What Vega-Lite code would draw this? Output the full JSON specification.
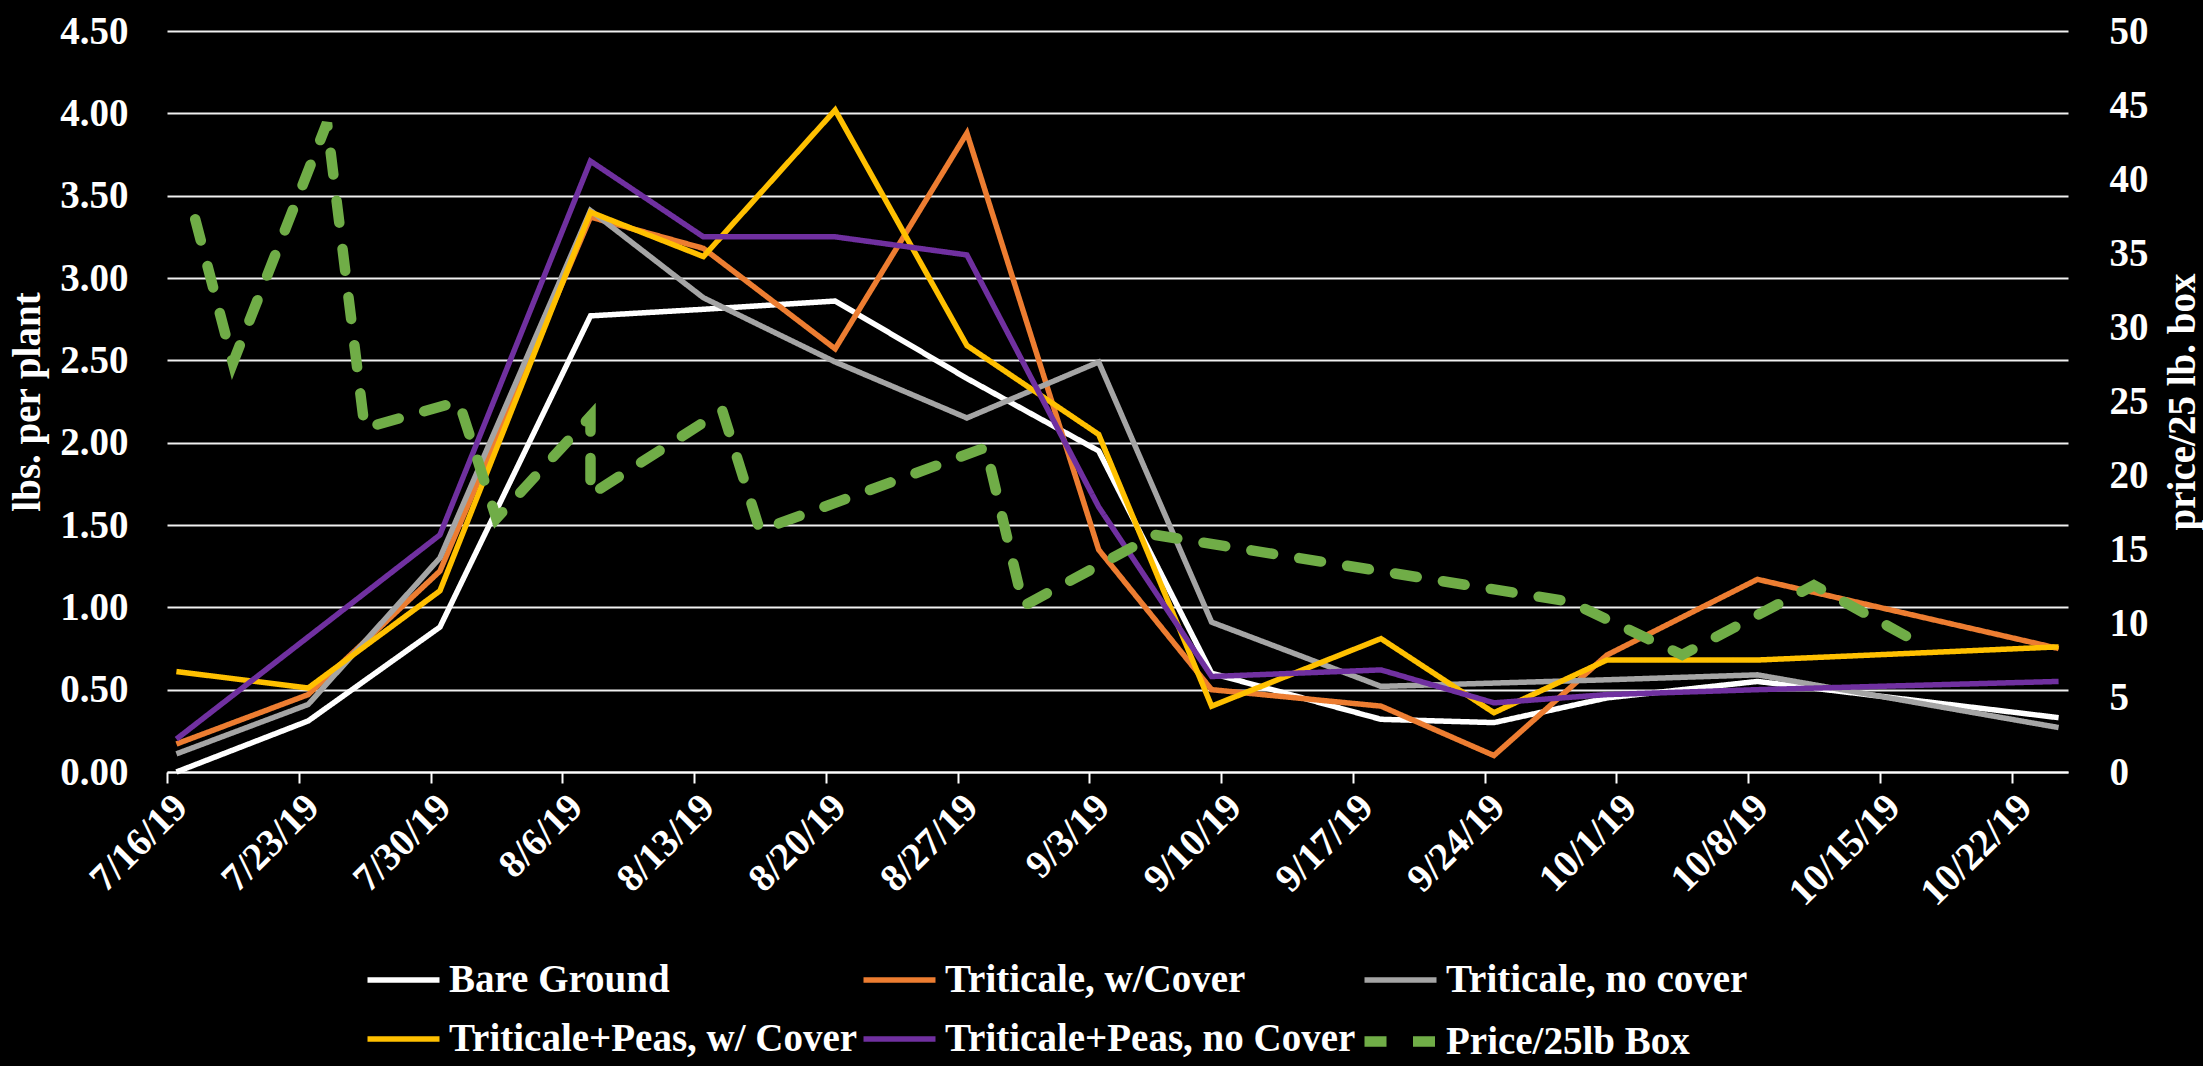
{
  "$schema": "https://vega.github.io/schema/vega-lite/v6.json",
  "width": 1901,
  "height": 741,
  "autosize": {"type": "none"},
  "padding": {"left": 167, "top": 31, "right": 135, "bottom": 294},
  "background": "#000000",
  "config": {
    "view": {"stroke": null},
    "font": "Liberation Serif",
    "axis": {
      "labelFont": "Liberation Serif",
      "labelFontSize": 39,
      "labelFontWeight": "bold",
      "labelColor": "#FFFFFF",
      "titleFont": "Liberation Serif",
      "titleFontSize": 39,
      "titleFontWeight": "bold",
      "titleColor": "#FFFFFF",
      "labelFlush": false,
      "labelOverlap": false,
      "labelBound": false,
      "labelLimit": 1000
    }
  },
  "datasets": {
    "produce": [
      {"date": "2019-07-16", "series": "Bare Ground", "lbs": 0.00},
      {"date": "2019-07-23", "series": "Bare Ground", "lbs": 0.31},
      {"date": "2019-07-30", "series": "Bare Ground", "lbs": 0.88},
      {"date": "2019-08-07", "series": "Bare Ground", "lbs": 2.77},
      {"date": "2019-08-13", "series": "Bare Ground", "lbs": 2.81},
      {"date": "2019-08-20", "series": "Bare Ground", "lbs": 2.86},
      {"date": "2019-08-27", "series": "Bare Ground", "lbs": 2.39},
      {"date": "2019-09-03", "series": "Bare Ground", "lbs": 1.95},
      {"date": "2019-09-09", "series": "Bare Ground", "lbs": 0.60},
      {"date": "2019-09-18", "series": "Bare Ground", "lbs": 0.32},
      {"date": "2019-09-24", "series": "Bare Ground", "lbs": 0.30},
      {"date": "2019-09-30", "series": "Bare Ground", "lbs": 0.45},
      {"date": "2019-10-08", "series": "Bare Ground", "lbs": 0.55},
      {"date": "2019-10-24", "series": "Bare Ground", "lbs": 0.33},

      {"date": "2019-07-16", "series": "Triticale, w/Cover", "lbs": 0.17},
      {"date": "2019-07-23", "series": "Triticale, w/Cover", "lbs": 0.47},
      {"date": "2019-07-30", "series": "Triticale, w/Cover", "lbs": 1.22},
      {"date": "2019-08-07", "series": "Triticale, w/Cover", "lbs": 3.37},
      {"date": "2019-08-13", "series": "Triticale, w/Cover", "lbs": 3.18},
      {"date": "2019-08-20", "series": "Triticale, w/Cover", "lbs": 2.57},
      {"date": "2019-08-27", "series": "Triticale, w/Cover", "lbs": 3.88},
      {"date": "2019-09-03", "series": "Triticale, w/Cover", "lbs": 1.35},
      {"date": "2019-09-09", "series": "Triticale, w/Cover", "lbs": 0.50},
      {"date": "2019-09-18", "series": "Triticale, w/Cover", "lbs": 0.40},
      {"date": "2019-09-24", "series": "Triticale, w/Cover", "lbs": 0.10},
      {"date": "2019-09-30", "series": "Triticale, w/Cover", "lbs": 0.71},
      {"date": "2019-10-08", "series": "Triticale, w/Cover", "lbs": 1.17},
      {"date": "2019-10-24", "series": "Triticale, w/Cover", "lbs": 0.75},

      {"date": "2019-07-16", "series": "Triticale, no cover", "lbs": 0.11},
      {"date": "2019-07-23", "series": "Triticale, no cover", "lbs": 0.41},
      {"date": "2019-07-30", "series": "Triticale, no cover", "lbs": 1.30},
      {"date": "2019-08-07", "series": "Triticale, no cover", "lbs": 3.41},
      {"date": "2019-08-13", "series": "Triticale, no cover", "lbs": 2.88},
      {"date": "2019-08-20", "series": "Triticale, no cover", "lbs": 2.49},
      {"date": "2019-08-27", "series": "Triticale, no cover", "lbs": 2.15},
      {"date": "2019-09-03", "series": "Triticale, no cover", "lbs": 2.49},
      {"date": "2019-09-09", "series": "Triticale, no cover", "lbs": 0.91},
      {"date": "2019-09-18", "series": "Triticale, no cover", "lbs": 0.52},
      {"date": "2019-09-24", "series": "Triticale, no cover", "lbs": 0.54},
      {"date": "2019-09-30", "series": "Triticale, no cover", "lbs": 0.56},
      {"date": "2019-10-08", "series": "Triticale, no cover", "lbs": 0.59},
      {"date": "2019-10-24", "series": "Triticale, no cover", "lbs": 0.27},

      {"date": "2019-07-16", "series": "Triticale+Peas, w/ Cover", "lbs": 0.61},
      {"date": "2019-07-23", "series": "Triticale+Peas, w/ Cover", "lbs": 0.51},
      {"date": "2019-07-30", "series": "Triticale+Peas, w/ Cover", "lbs": 1.10},
      {"date": "2019-08-07", "series": "Triticale+Peas, w/ Cover", "lbs": 3.40},
      {"date": "2019-08-13", "series": "Triticale+Peas, w/ Cover", "lbs": 3.13},
      {"date": "2019-08-20", "series": "Triticale+Peas, w/ Cover", "lbs": 4.02},
      {"date": "2019-08-27", "series": "Triticale+Peas, w/ Cover", "lbs": 2.59},
      {"date": "2019-09-03", "series": "Triticale+Peas, w/ Cover", "lbs": 2.05},
      {"date": "2019-09-09", "series": "Triticale+Peas, w/ Cover", "lbs": 0.40},
      {"date": "2019-09-18", "series": "Triticale+Peas, w/ Cover", "lbs": 0.81},
      {"date": "2019-09-24", "series": "Triticale+Peas, w/ Cover", "lbs": 0.36},
      {"date": "2019-09-30", "series": "Triticale+Peas, w/ Cover", "lbs": 0.68},
      {"date": "2019-10-08", "series": "Triticale+Peas, w/ Cover", "lbs": 0.68},
      {"date": "2019-10-24", "series": "Triticale+Peas, w/ Cover", "lbs": 0.76},

      {"date": "2019-07-16", "series": "Triticale+Peas, no Cover", "lbs": 0.20},
      {"date": "2019-07-23", "series": "Triticale+Peas, no Cover", "lbs": 0.82},
      {"date": "2019-07-30", "series": "Triticale+Peas, no Cover", "lbs": 1.44},
      {"date": "2019-08-07", "series": "Triticale+Peas, no Cover", "lbs": 3.71},
      {"date": "2019-08-13", "series": "Triticale+Peas, no Cover", "lbs": 3.25},
      {"date": "2019-08-20", "series": "Triticale+Peas, no Cover", "lbs": 3.25},
      {"date": "2019-08-27", "series": "Triticale+Peas, no Cover", "lbs": 3.14},
      {"date": "2019-09-03", "series": "Triticale+Peas, no Cover", "lbs": 1.61},
      {"date": "2019-09-09", "series": "Triticale+Peas, no Cover", "lbs": 0.58},
      {"date": "2019-09-18", "series": "Triticale+Peas, no Cover", "lbs": 0.62},
      {"date": "2019-09-24", "series": "Triticale+Peas, no Cover", "lbs": 0.42},
      {"date": "2019-09-30", "series": "Triticale+Peas, no Cover", "lbs": 0.47},
      {"date": "2019-10-08", "series": "Triticale+Peas, no Cover", "lbs": 0.50},
      {"date": "2019-10-24", "series": "Triticale+Peas, no Cover", "lbs": 0.55}
    ],
    "price": [
      {"n": 1, "date": "2019-07-17", "series": "Price/25lb Box", "price": 37.3},
      {"n": 2, "date": "2019-07-19", "series": "Price/25lb Box", "price": 27.6},
      {"n": 3, "date": "2019-07-24", "series": "Price/25lb Box", "price": 43.8},
      {"n": 4, "date": "2019-07-26", "series": "Price/25lb Box", "price": 23.2},
      {"n": 5, "date": "2019-07-31", "series": "Price/25lb Box", "price": 25.0},
      {"n": 6, "date": "2019-08-02", "series": "Price/25lb Box", "price": 17.1},
      {"n": 7, "date": "2019-08-07", "series": "Price/25lb Box", "price": 24.0},
      {"n": 8, "date": "2019-08-07", "series": "Price/25lb Box", "price": 18.7},
      {"n": 9, "date": "2019-08-14", "series": "Price/25lb Box", "price": 24.4},
      {"n": 10, "date": "2019-08-16", "series": "Price/25lb Box", "price": 16.3},
      {"n": 11, "date": "2019-08-28", "series": "Price/25lb Box", "price": 21.9},
      {"n": 12, "date": "2019-08-30", "series": "Price/25lb Box", "price": 11.2},
      {"n": 13, "date": "2019-09-06", "series": "Price/25lb Box", "price": 16.0},
      {"n": 14, "date": "2019-09-28", "series": "Price/25lb Box", "price": 11.5},
      {"n": 15, "date": "2019-10-04", "series": "Price/25lb Box", "price": 7.9},
      {"n": 16, "date": "2019-10-11", "series": "Price/25lb Box", "price": 12.6},
      {"n": 17, "date": "2019-10-17", "series": "Price/25lb Box", "price": 8.4}
    ]
  },
  "encoding": {
    "x": {
      "field": "date",
      "type": "temporal",
      "timeUnit": "utcyearmonthdate",
      "bandPosition": 0.5,
      "scale": {
        "type": "utc",
        "domain": [
          {"year": 2019, "month": 7, "date": 16, "utc": true},
          {"year": 2019, "month": 10, "date": 25, "utc": true}
        ]
      },
      "axis": {
        "title": null,
        "grid": false,
        "labelExpr": "utcFormat(datum.value, '%-m/%-d/%y')",
        "labelAngle": -45,
        "domainColor": "#FFFFFF",
        "domainWidth": 2,
        "tickColor": "#FFFFFF",
        "tickWidth": 2,
        "tickSize": 11,
        "labelPadding": 4,
        "values": [
          {"year": 2019, "month": 7, "date": 16, "utc": true},
          {"year": 2019, "month": 7, "date": 23, "utc": true},
          {"year": 2019, "month": 7, "date": 30, "utc": true},
          {"year": 2019, "month": 8, "date": 6, "utc": true},
          {"year": 2019, "month": 8, "date": 13, "utc": true},
          {"year": 2019, "month": 8, "date": 20, "utc": true},
          {"year": 2019, "month": 8, "date": 27, "utc": true},
          {"year": 2019, "month": 9, "date": 3, "utc": true},
          {"year": 2019, "month": 9, "date": 10, "utc": true},
          {"year": 2019, "month": 9, "date": 17, "utc": true},
          {"year": 2019, "month": 9, "date": 24, "utc": true},
          {"year": 2019, "month": 10, "date": 1, "utc": true},
          {"year": 2019, "month": 10, "date": 8, "utc": true},
          {"year": 2019, "month": 10, "date": 15, "utc": true},
          {"year": 2019, "month": 10, "date": 22, "utc": true}
        ]
      }
    },
    "color": {
      "field": "series",
      "type": "nominal",
      "scale": {
        "domain": ["Bare Ground", "Triticale, w/Cover", "Triticale, no cover", "Triticale+Peas, w/ Cover", "Triticale+Peas, no Cover", "Price/25lb Box"],
        "range": ["#FFFFFF", "#ED7D31", "#A5A5A5", "#FFC000", "#7030A0", "#70AD47"]
      },
      "legend": {
        "orient": "none",
        "legendX": 195,
        "legendY": 910,
        "direction": "horizontal",
        "columns": 3,
        "title": null,
        "padding": 0,
        "symbolType": "stroke",
        "symbolSize": 5184,
        "labelOffset": 4,
        "columnPadding": -13,
        "rowPadding": -7,
        "labelFont": "Liberation Serif",
        "labelFontSize": 39,
        "labelFontWeight": "bold",
        "labelColor": "#FFFFFF",
        "labelLimit": 1000
      }
    },
    "strokeDash": {
      "field": "series",
      "type": "nominal",
      "scale": {
        "domain": ["Bare Ground", "Triticale, w/Cover", "Triticale, no cover", "Triticale+Peas, w/ Cover", "Triticale+Peas, no Cover", "Price/25lb Box"],
        "range": [[1, 0], [1, 0], [1, 0], [1, 0], [1, 0], [22, 26.5]]
      }
    },
    "strokeWidth": {
      "field": "series",
      "type": "nominal",
      "scale": {
        "type": "ordinal",
        "domain": ["Bare Ground", "Triticale, w/Cover", "Triticale, no cover", "Triticale+Peas, w/ Cover", "Triticale+Peas, no Cover", "Price/25lb Box"],
        "range": [5.5, 5.5, 5.5, 5.5, 5.5, 10.5]
      }
    }
  },
  "layer": [
    {
      "data": {"name": "produce"},
      "mark": {"type": "line"},
      "encoding": {
        "y": {
          "field": "lbs",
          "type": "quantitative",
          "scale": {"domain": [0, 4.5]},
          "axis": {
            "orient": "left",
            "values": [0, 0.5, 1, 1.5, 2, 2.5, 3, 3.5, 4, 4.5],
            "format": ".2f",
            "grid": true,
            "gridColor": "#F0F0F0",
            "gridWidth": 2,
            "ticks": false,
            "tickSize": 0,
            "domain": false,
            "labelPadding": 39,
            "title": "lbs. per plant",
            "titleX": -128,
            "titleY": 370.5,
            "titleAngle": 270,
            "titleAlign": "center",
            "titleBaseline": "alphabetic"
          }
        }
      }
    },
    {
      "data": {"name": "price"},
      "mark": {"type": "line", "strokeCap": "round"},
      "encoding": {
        "y": {
          "field": "price",
          "type": "quantitative",
          "scale": {"domain": [0, 50]},
          "axis": {
            "orient": "right",
            "values": [0, 5, 10, 15, 20, 25, 30, 35, 40, 45, 50],
            "format": "d",
            "grid": false,
            "ticks": false,
            "tickSize": 0,
            "domain": false,
            "labelPadding": 41,
            "labelAlign": "left",
            "title": "price/25 lb. box",
            "titleX": 126.4,
            "titleY": 370.5,
            "titleAngle": 270,
            "titleAlign": "center",
            "titleBaseline": "alphabetic"
          }
        },
        "order": {"field": "n", "type": "quantitative"}
      }
    }
  ],
  "resolve": {"scale": {"y": "independent"}}
}
